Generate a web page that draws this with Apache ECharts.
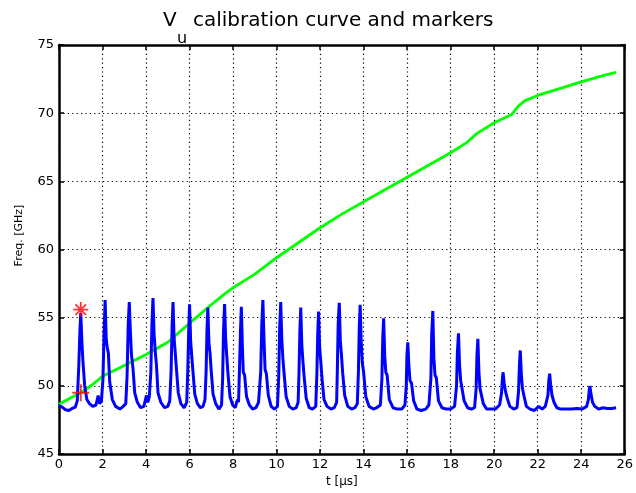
<!DOCTYPE html>
<html>
<head>
<meta charset="utf-8">
<script src="https://cdn.jsdelivr.net/npm/echarts@6/dist/echarts.min.js"></script>
<style>html,body{margin:0;padding:0;background:#fff}#c{width:636px;height:493px}</style>
</head>
<body>
<div id="c"></div>
<script>
// ---- data ----
const xTicks = [0, 2, 4, 6, 8, 10, 12, 14, 16, 18, 20, 22, 24, 26];
const yTicks = [45, 50, 55, 60, 65, 70, 75];

// calibration curve (green): [t in µs, freq in GHz]
const calibCurve = [
  [0, 48.65], [0.5, 49.1], [1, 49.5], [1.5, 50.05], [2, 50.7], [3, 51.5], [4, 52.3],
  [5, 53.2], [6, 54.6], [7, 55.95], [7.5, 56.6], [8, 57.2], [8.5, 57.7], [9, 58.2],
  [10, 59.4], [11, 60.5], [12, 61.6], [13, 62.6], [14, 63.5], [15, 64.4], [16, 65.3],
  [17, 66.2], [18, 67.1], [18.7, 67.8], [19.2, 68.5], [20, 69.3], [20.8, 69.9],
  [21.1, 70.5], [21.4, 70.9], [22, 71.3], [23, 71.8], [24, 72.3], [25, 72.75], [25.6, 73.0]
];

// marker trace (blue): [t in µs, freq in GHz]
const markerTrace = [
  [0.00,48.55],[0.15,48.45],[0.3,48.25],[0.45,48.2],[0.6,48.35],[0.75,48.45],[0.84,48.9],
  [0.91,51.5],[0.96,54.0],[1.0,55.35],[1.06,53.0],[1.1,51.8],[1.18,50.0],[1.28,49.0],[1.4,48.7],[1.55,48.5],[1.7,48.6],[1.8,49.3],[1.87,48.7],[1.95,48.9],
  [2.02,50.5],[2.07,53.8],[2.12,56.3],[2.17,53.4],[2.22,52.8],[2.27,52.4],[2.33,50.3],[2.45,49.0],[2.6,48.5],[2.8,48.3],[2.95,48.5],[3.07,48.7],
  [3.13,50.8],[3.18,54.5],[3.23,56.15],[3.28,54.0],[3.33,52.3],[3.4,51.3],[3.48,49.5],[3.6,48.8],[3.75,48.4],[3.9,48.5],[4.02,49.3],[4.08,48.8],[4.15,49.2],
  [4.22,51.0],[4.27,54.5],[4.32,56.45],[4.37,53.8],[4.42,52.6],[4.48,51.5],[4.55,49.5],[4.68,48.8],[4.85,48.4],[5.0,48.5],[5.09,48.9],
  [5.15,51.0],[5.2,54.5],[5.24,56.15],[5.29,53.5],[5.34,52.5],[5.4,51.2],[5.48,49.5],[5.6,48.7],[5.75,48.4],[5.87,48.8],
  [5.92,51.2],[5.96,54.0],[6.0,55.98],[6.05,53.3],[6.1,52.2],[6.16,51.0],[6.24,49.4],[6.36,48.7],[6.5,48.4],[6.62,48.5],[6.71,49.0],
  [6.76,51.0],[6.8,54.0],[6.84,55.75],[6.89,53.2],[6.94,52.4],[7.0,51.0],[7.08,49.4],[7.2,48.7],[7.35,48.3],[7.47,48.6],
  [7.52,50.5],[7.56,54.0],[7.61,56.0],[7.66,53.4],[7.71,52.2],[7.77,50.8],[7.86,49.2],[7.98,48.6],[8.1,48.4],[8.2,49.0],[8.25,48.8],
  [8.29,51.0],[8.34,54.0],[8.38,55.8],[8.43,52.8],[8.47,51.0],[8.53,50.8],[8.62,49.2],[8.75,48.6],[8.9,48.3],[9.05,48.4],[9.17,48.8],
  [9.27,51.0],[9.32,54.5],[9.37,56.3],[9.42,53.5],[9.47,51.2],[9.53,50.9],[9.62,49.3],[9.75,48.5],[9.9,48.3],[10.04,48.5],
  [10.1,50.8],[10.14,54.2],[10.19,56.15],[10.24,53.4],[10.29,52.0],[10.35,50.8],[10.44,49.2],[10.58,48.5],[10.75,48.3],[10.9,48.4],[10.99,48.8],
  [11.03,51.0],[11.07,54.0],[11.11,55.75],[11.16,53.0],[11.21,51.8],[11.27,50.6],[11.36,49.1],[11.5,48.4],[11.65,48.3],[11.8,48.5],
  [11.85,50.8],[11.89,53.8],[11.93,55.45],[11.98,52.8],[12.03,51.8],[12.09,50.5],[12.18,49.0],[12.32,48.5],[12.5,48.3],[12.65,48.4],[12.76,48.8],
  [12.79,51.0],[12.83,54.5],[12.88,56.1],[12.93,53.3],[12.98,52.3],[13.04,50.9],[13.13,49.3],[13.27,48.5],[13.45,48.3],[13.6,48.4],[13.71,48.7],
  [13.76,51.0],[13.8,54.3],[13.84,55.95],[13.89,53.2],[13.94,51.7],[14.0,51.0],[14.1,49.2],[14.25,48.5],[14.45,48.3],[14.6,48.4],[14.77,48.6],
  [14.84,50.5],[14.88,53.5],[14.92,54.95],[14.97,52.2],[15.02,51.0],[15.08,50.8],[15.18,49.0],[15.35,48.4],[15.55,48.3],[15.75,48.3],[15.9,48.6],
  [15.96,50.0],[15.99,52.2],[16.03,53.2],[16.08,51.5],[16.13,50.4],[16.2,50.2],[16.3,48.9],[16.45,48.3],[16.65,48.2],[16.85,48.3],[17.0,48.6],
  [17.09,50.5],[17.13,53.8],[17.18,55.5],[17.23,52.0],[17.28,50.8],[17.34,50.6],[17.44,48.9],[17.6,48.4],[17.8,48.3],[18.0,48.3],[18.18,48.5],
  [18.27,50.0],[18.31,52.5],[18.36,53.85],[18.41,51.5],[18.46,50.4],[18.53,50.3],[18.62,48.9],[18.78,48.4],[18.95,48.3],[19.1,48.4],
  [19.17,49.8],[19.21,52.3],[19.25,53.45],[19.3,51.0],[19.35,49.8],[19.42,49.9],[19.5,48.7],[19.65,48.3],[19.85,48.3],[20.05,48.3],[20.25,48.6],
  [20.34,49.5],[20.38,50.6],[20.41,51.0],[20.46,50.2],[20.52,49.6],[20.6,49.1],[20.72,48.5],[20.9,48.3],[21.05,48.4],
  [21.12,49.6],[21.16,51.5],[21.2,52.6],[21.25,50.8],[21.3,49.8],[21.38,49.2],[21.48,48.5],[21.65,48.3],[21.85,48.2],[22.05,48.5],[22.2,48.3],[22.35,48.5],
  [22.47,49.3],[22.51,50.4],[22.55,50.9],[22.6,50.0],[22.66,49.3],[22.75,48.8],[22.88,48.4],[23.05,48.3],[23.3,48.3],[23.55,48.3],[23.8,48.35],[24.05,48.3],[24.25,48.5],
  [24.33,49.0],[24.37,49.7],[24.4,50.0],[24.45,49.4],[24.52,48.8],[24.62,48.5],[24.8,48.3],[25.0,48.4],[25.2,48.35],[25.4,48.35],[25.6,48.4]
];

// red markers
const starMarker = [[1.0, 55.6]];
const plusMarker = [[1.0, 49.5]];

// ---- chart ----
const FONT = 'DejaVu Sans';
const starPath = 'path://M-10,-1.2L10,-1.2L10,1.2L-10,1.2Z M-1.2,-10L1.2,-10L1.2,10L-1.2,10Z M-7.9,-6.2L-6.2,-7.9L7.9,6.2L6.2,7.9Z M6.2,-7.9L7.9,-6.2L-6.2,7.9L-7.9,6.2Z';
const plusPath = 'path://M-10,-1.1L10,-1.1L10,1.1L-10,1.1Z M-1.1,-10L1.1,-10L1.1,10L-1.1,10Z';

const chart = echarts.init(document.getElementById('c'), null, {renderer: 'canvas'});
const txt = (size) => ({fontFamily: FONT, fontSize: size, fontWeight: 'normal', color: '#000'});
const dotted = {color: '#000', width: 1.2, type: [1.2, 3.2]};

const xBase = {
  type: 'value', min: xTicks[0], max: xTicks[xTicks.length - 1], interval: xTicks[1] - xTicks[0],
  axisLine: {show: true, onZero: false, lineStyle: {color: '#000', width: 2.5}},
  axisTick: {show: true, inside: true, length: 5, lineStyle: {color: '#000', width: 1.5}}
};
const yBase = {
  type: 'value', min: yTicks[0], max: yTicks[yTicks.length - 1], interval: yTicks[1] - yTicks[0],
  axisLine: {show: true, onZero: false, lineStyle: {color: '#000', width: 2.5}},
  axisTick: {show: true, inside: true, length: 5, lineStyle: {color: '#000', width: 1.5}}
};

chart.setOption({
  animation: false,
  backgroundColor: '#fff',
  title: [
    {text: 'V', left: 163, top: 11, padding: 0, textStyle: txt(20)},
    {text: 'u', left: 177, top: 31, padding: 0, textStyle: txt(16)},
    {text: 'calibration curve and markers', left: 193, top: 11, padding: 0, textStyle: txt(20)}
  ],
  grid: {left: 59, right: 9, top: 45, bottom: 34, containLabel: false},
  xAxis: [
    Object.assign({}, xBase, {
      position: 'bottom',
      name: 't [µs]', nameLocation: 'middle', nameGap: 17, nameTextStyle: txt(12),
      axisLabel: Object.assign({margin: 4}, txt(13)),
      splitLine: {show: true, lineStyle: dotted}
    }),
    Object.assign({}, xBase, {position: 'top', axisLabel: {show: false}, splitLine: {show: false}})
  ],
  yAxis: [
    Object.assign({}, yBase, {
      position: 'left',
      name: 'Freq. [GHz]', nameLocation: 'middle', nameGap: 34,
      nameTextStyle: Object.assign({padding: [0, 0, 0, 28]}, txt(11)),
      axisLabel: Object.assign({margin: 5}, txt(13)),
      splitLine: {show: true, lineStyle: dotted}
    }),
    Object.assign({}, yBase, {position: 'right', axisLabel: {show: false}, splitLine: {show: false}})
  ],
  series: [
    {type: 'line', name: 'calibration', data: calibCurve, showSymbol: false, symbol: 'none',
     lineStyle: {color: '#00ff00', width: 2.8}, z: 2},
    {type: 'line', name: 'markers', data: markerTrace, showSymbol: false, symbol: 'none',
     lineStyle: {color: '#0000ff', width: 3}, z: 3},
    {type: 'scatter', data: starMarker, symbol: starPath, symbolSize: 15,
     itemStyle: {color: '#ff0000'}, z: 5},
    {type: 'scatter', data: plusMarker, symbol: plusPath, symbolSize: 17,
     itemStyle: {color: '#ff0000'}, z: 5}
  ]
});
</script>
</body>
</html>
